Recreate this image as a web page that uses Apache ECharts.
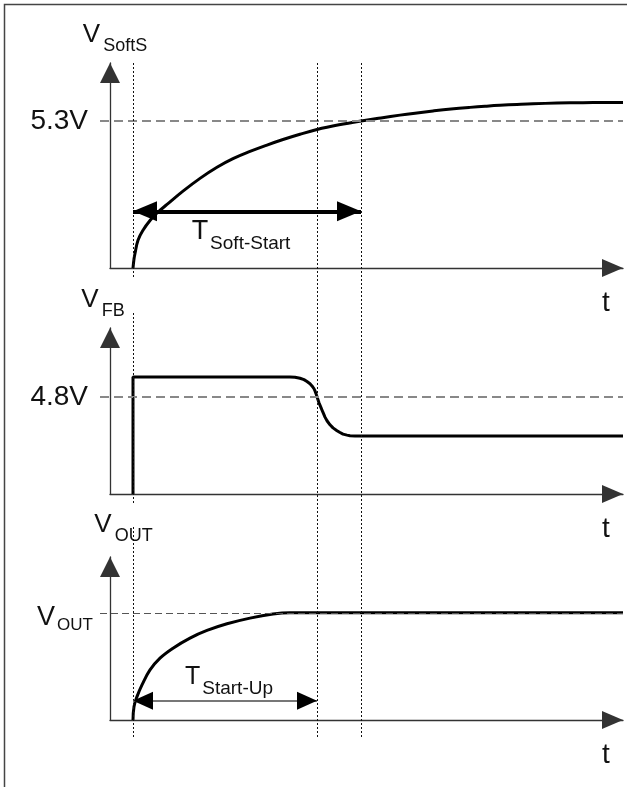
<!DOCTYPE html>
<html>
<head>
<meta charset="utf-8">
<title>Soft-start timing</title>
<script src="https://cdn.jsdelivr.net/npm/echarts@6/dist/echarts.min.js"></script>
<style>
  html, body { margin: 0; padding: 0; background: #fff; }
  #chart { width: 627px; height: 787px; }
</style>
</head>
<body>
<div id="chart"></div>
<script>
// time in picture units, 0 = start of soft-start
const softT = [0, 1, 2, 5, 10, 17, 24, 34, 50, 67, 84, 100, 117, 134, 150, 167, 184, 206, 228, 248, 267, 284, 300, 318, 337, 352, 367, 384, 400, 424, 450, 470, 490];
const softV = [0, 0.33, 0.53, 1.01, 1.37, 1.72, 1.99, 2.3, 2.78, 3.24, 3.64, 3.95, 4.21, 4.44, 4.64, 4.83, 5.0, 5.17, 5.31, 5.42, 5.52, 5.6, 5.67, 5.74, 5.8, 5.84, 5.875, 5.905, 5.93, 5.955, 5.97, 5.975, 5.98];

const fbT = [0, 0, 157, 162, 167, 171, 174, 177, 179, 181, 182, 183, 184, 185, 186, 188, 190, 192, 194, 197, 200, 204, 207, 210, 214, 217, 222, 490];
const fbV = [0, 5.78, 5.78, 5.77, 5.72, 5.65, 5.56, 5.45, 5.34, 5.2, 5.09, 4.96, 4.81, 4.66, 4.51, 4.27, 4.03, 3.8, 3.62, 3.42, 3.27, 3.13, 3.04, 2.96, 2.91, 2.88, 2.87, 2.87];

// V_OUT normalised to 1
const outT = [0, 1, 4, 9, 17, 27, 40, 57, 74, 94, 117, 140, 157, 200, 300, 490];
const outV = [0, 0.124, 0.218, 0.327, 0.467, 0.577, 0.67, 0.764, 0.835, 0.897, 0.95, 0.988, 1, 1, 1, 1];

const tStart = 0, tStartUp = 184, tSoftStart = 228;
const levels = [5.3, 4.8, 1];
const levelLabels = ['5.3V', '4.8V', '{v|V}{s|OUT}'];
const axisNames = ['{v|V}{s|SoftS}', '{v|V}{s|FB}', '{v|V}{s|OUT}'];
const yMax = [7.4, 8.2, 1.52];
// ends of the dotted guides, in each panel's own units
const guideMin = [-16.94, -0.44, -0.168];
const guideMax = [7.4, 8.94, 1.8];

const FONT = '"Liberation Sans", Arial, Helvetica, sans-serif';
const tMin = -23, tMax = 490, refStart = -33;

// grids holding the drawn axes
const grids = [
  { left: 110, right: 4, top: 63, height: 205 },
  { left: 110, right: 4, top: 328, height: 166 },
  { left: 110, right: 4, top: 557, height: 163 }
];
// same scales, wider boxes for curves, guides and reference lines
const overlays = [
  { left: 100, right: 4, top: 63, height: 675 },
  { left: 100, right: 4, top: 313, height: 190 },
  { left: 100, right: 4, top: 527, height: 211 }
];

function rich(big, small, vPad) {
  return {
    v: { fontSize: big, fontFamily: FONT, color: '#111', verticalAlign: 'bottom', padding: vPad },
    s: { fontSize: small, fontFamily: FONT, color: '#111', verticalAlign: 'bottom' }
  };
}

const namePad = [[0, 0, 0, 10], [0, 14, 0, 0], [0, 0, 0, 27]];

const xAxes = grids.map((g, i) => ({
  type: 'value', gridIndex: i, min: tMin, max: tMax,
  axisLine: { show: true, onZero: false, lineStyle: { color: '#333', width: 1.3 },
    symbol: ['none', 'triangle'], symbolSize: [18, 21], symbolOffset: [0, -10.5] },
  axisTick: { show: false }, axisLabel: { show: false }, splitLine: { show: false },
  name: '{t|t}', nameLocation: 'end', nameGap: -21,
  nameTextStyle: { rich: { t: { fontSize: 28, fontFamily: FONT, color: '#111', padding: [70, 0, 0, 0] } } }
}));

const yAxes = grids.map((g, i) => ({
  type: 'value', gridIndex: i, min: 0, max: yMax[i],
  axisLine: { show: true, onZero: false, lineStyle: { color: '#333', width: 1.3 },
    symbol: ['none', 'triangle'], symbolSize: [20, 20], symbolOffset: [0, -10] },
  axisTick: { show: false }, splitLine: { show: false },
  axisLabel: {
    customValues: [levels[i]],
    formatter: () => levelLabels[i],
    margin: i === 2 ? 17 : 22,
    fontSize: 28, fontFamily: FONT, color: '#111',
    rich: rich(27, 17, [13, 2, 3, 0])
  },
  name: axisNames[i], nameLocation: 'end', nameGap: i === 2 ? 12 : 8,
  nameTextStyle: { padding: namePad[i], rich: rich(26, 18, [0, 3, 7, 0]) }
}));

overlays.forEach((g, i) => {
  xAxes.push({ type: 'value', gridIndex: 3 + i, min: refStart, max: tMax, show: false });
  yAxes.push({ type: 'value', gridIndex: 3 + i, min: guideMin[i], max: guideMax[i], show: false });
});

const dashStyle = { type: [9, 5], color: '#888', width: 2 };
const dotStyle = { type: [2, 2], color: '#111', width: 1 };

function pairs(ts, vs) { return ts.map((t, k) => [t, vs[k]]); }

const option = {
  animation: false,
  grid: grids.concat(overlays).map(g => Object.assign({ outerBoundsMode: 'none' }, g)),
  graphic: [{
    type: 'rect', silent: true,
    shape: { x: 4.5, y: 4.5, width: 660, height: 820 },
    style: { fill: 'none', stroke: '#444', lineWidth: 1.5 }
  }],
  xAxis: xAxes,
  yAxis: yAxes,
  series: [
    {
      type: 'line', xAxisIndex: 3, yAxisIndex: 3,
      data: pairs(softT, softV), showSymbol: false, smooth: 0.4,
      lineStyle: { color: '#000', width: 3 },
      markLine: {
        silent: true, symbol: 'none', label: { show: false },
        data: [
          [{ coord: [refStart, levels[0]], lineStyle: dashStyle }, { coord: [tMax, levels[0]] }],
          [{ coord: [tStart, yMax[0]], lineStyle: dotStyle }, { coord: [tStart, -0.36] }],
          [{ coord: [tStartUp, guideMax[0]], lineStyle: dotStyle }, { coord: [tStartUp, guideMin[0]] }],
          [{ coord: [tSoftStart, guideMax[0]], lineStyle: dotStyle }, { coord: [tSoftStart, guideMin[0]] }],
          [{
            coord: [tStart, 2.05], symbol: 'triangle', symbolSize: [20, 24], symbolOffset: [0, 12],
            lineStyle: { color: '#000', width: 4, type: 'solid' },
            label: {
              show: true, position: 'insideMiddleBottom', distance: 7,
              formatter: '{v|T}{s|Soft-Start}', padding: [0, 12, 0, 0],
              rich: rich(27, 19, [0, 2, 8, 0])
            }
          }, { coord: [tSoftStart, 2.05], symbol: 'triangle', symbolSize: [20, 24], symbolOffset: [0, 12] }]
        ]
      }
    },
    {
      type: 'line', xAxisIndex: 4, yAxisIndex: 4,
      data: pairs(fbT, fbV), showSymbol: false,
      lineStyle: { color: '#000', width: 3 },
      markLine: {
        silent: true, symbol: 'none', label: { show: false },
        data: [
          [{ coord: [refStart, levels[1]], lineStyle: dashStyle }, { coord: [tMax, levels[1]] }],
          [{ coord: [tStart, guideMax[1]], lineStyle: dotStyle }, { coord: [tStart, guideMin[1]] }]
        ]
      }
    },
    {
      type: 'line', xAxisIndex: 5, yAxisIndex: 5,
      data: pairs(outT, outV), showSymbol: false, smooth: 0.4,
      lineStyle: { color: '#000', width: 3 },
      markLine: {
        silent: true, symbol: 'none', label: { show: false },
        data: [
          [{ coord: [refStart, levels[2]], lineStyle: { type: [7, 4], color: '#555', width: 1 } }, { coord: [tMax, levels[2]] }],
          [{ coord: [tStart, guideMax[2]], lineStyle: dotStyle }, { coord: [tStart, guideMin[2]] }],
          [{
            coord: [tStart, 0.18], lineStyle: { color: '#777', width: 2, type: 'solid' },
            label: {
              show: true, position: 'insideMiddleTop', distance: 2,
              formatter: '{v|T}{s|Start-Up}', padding: [0, 0, 0, 8],
              rich: rich(25, 19, [0, 2, 9, 0])
            }
          }, { coord: [tStartUp, 0.18] }],
          [{
            coord: [tStart, 0.18], symbol: 'triangle', symbolSize: [18, 20], symbolOffset: [0, 10],
            lineStyle: { color: '#000', width: 0, type: 'solid' }
          }, { coord: [tStartUp, 0.18], symbol: 'triangle', symbolSize: [18, 20], symbolOffset: [0, 10] }]
        ]
      }
    }
  ]
};

const chart = echarts.init(document.getElementById('chart'));
chart.setOption(option);
</script>
</body>
</html>
